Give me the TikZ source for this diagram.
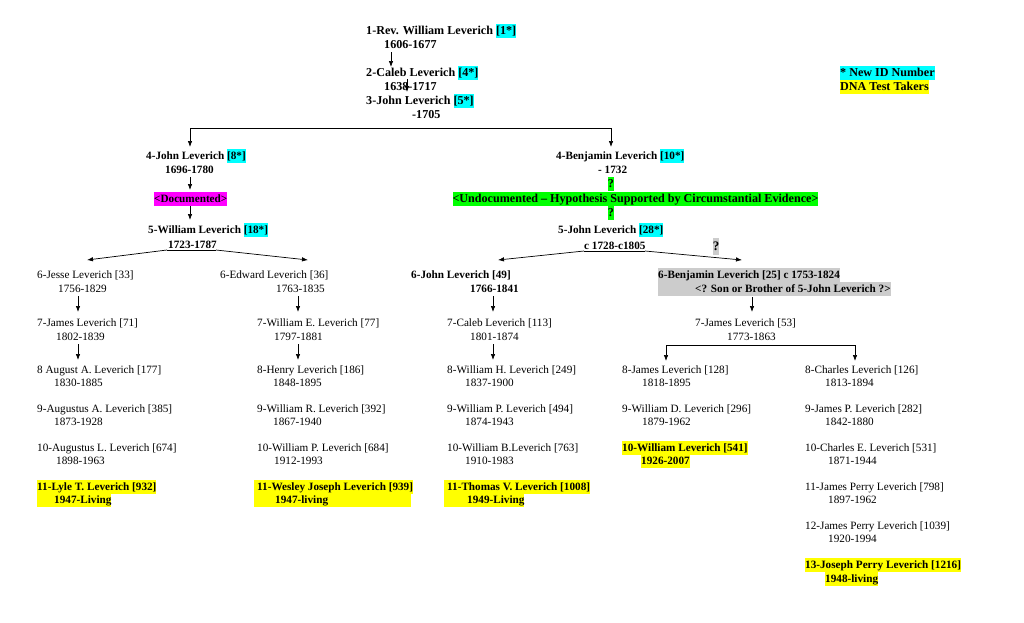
\documentclass[tikz,border=0pt]{standalone}
\usepackage{fontspec}
\setmainfont{Liberation Serif}
\usetikzlibrary{arrows.meta}
\definecolor{cy}{RGB}{0,255,255}
\definecolor{yl}{RGB}{255,255,0}
\definecolor{mg}{RGB}{255,0,255}
\definecolor{gn}{RGB}{0,255,0}
\definecolor{gy}{RGB}{204,204,204}
\newcommand\txtf{\fontsize{11.2}{14}\selectfont}
\newcommand\bigtf{\fontsize{12.1}{14.5}\selectfont}
\newcommand\hlt[2]{{\setlength{\fboxsep}{0pt}\colorbox{#1}{\strut#2}}}
\begin{document}
\begin{tikzpicture}[x=1pt,y=-1pt,
  tx/.style={anchor=base west,inner sep=0pt,font=\txtf},
  bx/.style={anchor=base west,inner sep=0pt,font=\txtf\bfseries},
  tb/.style={anchor=base west,inner sep=0pt,font=\bigtf\bfseries},
  cx/.style={anchor=base,inner sep=0pt,font=\bigtf\bfseries},
  arr/.style={-{Latex[length=6pt,width=4.5pt]},line width=0.7pt},
  ln/.style={line width=0.7pt}]
\useasboundingbox[fill=white] (0,0) rectangle (1024,622);

% ---------- top ----------
\node[tb] (r1)  at (366,34)  {1-Rev. William Leverich \hlt{cy}{[1*]}};
\node[tb] (r1d) at (384,48)  {1606-1677};
\node[tb] (r2)  at (366,76)  {2-Caleb Leverich \hlt{cy}{[4*]}};
\node[tb] (r2d) at (384,90)  {1638-1717};
\node[tb] (r3)  at (366,104) {3-John Leverich \hlt{cy}{[5*]}};
\node[tb] (r3d) at (412,118) {-1705};
\coordinate (a1s) at (391,52); \coordinate (a1e) at (391,67);
\draw[arr] (a1s) -- (a1e);
\coordinate (a2s) at (407,79); \coordinate (a2e) at (407,92);
\draw[arr] (a2s) -- (a2e);

% legend
\node[tb] (lg1) at (840,76) {\hlt{cy}{* New ID Number}};
\node[tb] (lg2) at (840,90) {\hlt{yl}{DNA Test Takers}};

% main split
\coordinate (sp) at (412,128);
\coordinate (spl) at (190,147);
\coordinate (spr) at (611,147);
\draw[arr] (sp) -| (spl);
\draw[arr] (sp) -| (spr);

% ---------- left branch ----------
\node[bx] (j4)  at (146,159) {4-John Leverich \hlt{cy}{[8*]}};
\node[bx] (j4d) at (165,173) {1696-1780};
\coordinate (a3s) at (190,177); \coordinate (a3e) at (190,190);
\draw[arr] (a3s) -- (a3e);
\node[bx] (doc) at (154,202) {\hlt{mg}{<Documented>}};
\coordinate (a4s) at (190,206); \coordinate (a4e) at (190,220);
\draw[arr] (a4s) -- (a4e);
\node[bx] (w5)  at (148,233) {5-William Leverich \hlt{cy}{[18*]}};
\node[bx] (w5d) at (168,248) {1723-1787};
\coordinate (u1l) at (167,250); \coordinate (u1r) at (216,250);
\coordinate (e1l) at (87,260);  \coordinate (e1r) at (308,260);
\draw[ln] (u1l) -- (u1r);
\draw[arr] (u1l) -- (e1l);
\draw[arr] (u1r) -- (e1r);

% ---------- right branch ----------
\node[bx] (b4)  at (556,159) {4-Benjamin Leverich \hlt{cy}{[10*]}};
\node[bx] (b4d) at (598,173) {- 1732};
\node[cx] (q1)  at (611,187) {\hlt{gn}{?}};
\node[cx] (und) at (635.5,202) {\hlt{gn}{<Undocumented – Hypothesis Supported by Circumstantial Evidence>}};
\node[cx] (q2)  at (611,216) {\hlt{gn}{?}};
\node[bx] (j5)  at (558,233) {5-John Leverich \hlt{cy}{[28*]}};
\node[bx] (j5d) at (584,249) {c 1728-c1805};
\node[anchor=base,inner sep=0pt,font=\fontsize{13}{17}\selectfont\bfseries] (q3) at (716,250) {\hlt{gy}{?}};
\coordinate (u2l) at (584,251); \coordinate (u2r) at (645,251);
\coordinate (e2l) at (498,260);  \coordinate (e2r) at (742,260);
\draw[ln] (u2l) -- (u2r);
\draw[arr] (u2l) -- (e2l);
\draw[arr] (u2r) -- (e2r);

% ---------- column 1 ----------
\node[tx] (c1a) at (37,278) {6-Jesse Leverich [33]};
\node[tx] (c1b) at (58,292) {1756-1829};
\coordinate (a5s) at (78,296); \coordinate (a5e) at (78,312);
\draw[arr] (a5s) -- (a5e);
\node[tx] (c1c) at (37,326) {7-James Leverich [71]};
\node[tx] (c1d) at (56,340) {1802-1839};
\coordinate (a6s) at (78,344); \coordinate (a6e) at (78,360);
\draw[arr] (a6s) -- (a6e);
\node[tx] (c1e) at (37,373) {8 August A. Leverich [177]};
\node[tx] (c1f) at (54,386) {1830-1885};
\node[tx] (c1g) at (37,412) {9-Augustus A. Leverich [385]};
\node[tx] (c1h) at (54,425) {1873-1928};
\node[tx] (c1i) at (37,451) {10-Augustus L. Leverich [674]};
\node[tx] (c1j) at (56,464) {1898-1963};
\node[bx] (c1k) at (37,490) {\hlt{yl}{11-Lyle T. Leverich [932]}};
\node[bx] (c1l) at (37,503) {\hlt{yl}{\hspace*{17pt}1947-Living}};

% ---------- column 2 ----------
\node[tx] (c2a) at (220,278) {6-Edward Leverich [36]};
\node[tx] (c2b) at (276,292) {1763-1835};
\coordinate (a7s) at (298,296); \coordinate (a7e) at (298,312);
\draw[arr] (a7s) -- (a7e);
\node[tx] (c2c) at (257,326) {7-William E. Leverich [77]};
\node[tx] (c2d) at (274,340) {1797-1881};
\coordinate (a8s) at (298,344); \coordinate (a8e) at (298,360);
\draw[arr] (a8s) -- (a8e);
\node[tx] (c2e) at (257,373) {8-Henry Leverich [186]};
\node[tx] (c2f) at (273,386) {1848-1895};
\node[tx] (c2g) at (257,412) {9-William R. Leverich [392]};
\node[tx] (c2h) at (273,425) {1867-1940};
\node[tx] (c2i) at (257,451) {10-William P. Leverich [684]};
\node[tx] (c2j) at (274,464) {1912-1993};
\node[bx] (c2k) at (254,490) {\hlt{yl}{\hspace*{3pt}11-Wesley Joseph Leverich [939]}};
\node[bx] (c2l) at (254,503) {\hlt{yl}{\hspace*{21pt}1947-living\hspace*{83pt}}};

% ---------- column 3 ----------
\node[bx] (c3a) at (411,278) {6-John Leverich [49]};
\node[bx] (c3b) at (470,292) {1766-1841};
\coordinate (a9s) at (493,296); \coordinate (a9e) at (493,312);
\draw[arr] (a9s) -- (a9e);
\node[tx] (c3c) at (447,326) {7-Caleb Leverich [113]};
\node[tx] (c3d) at (470,340) {1801-1874};
\coordinate (a10s) at (493,344); \coordinate (a10e) at (493,360);
\draw[arr] (a10s) -- (a10e);
\node[tx] (c3e) at (447,373) {8-William H. Leverich [249]};
\node[tx] (c3f) at (465,386) {1837-1900};
\node[tx] (c3g) at (447,412) {9-William P. Leverich [494]};
\node[tx] (c3h) at (465,425) {1874-1943};
\node[tx] (c3i) at (447,451) {10-William B.Leverich [763]};
\node[tx] (c3j) at (465,464) {1910-1983};
\node[bx] (c3k) at (444,490) {\hlt{yl}{\hspace*{3pt}11-Thomas V. Leverich [1008]}};
\node[bx] (c3l) at (444,503) {\hlt{yl}{\hspace*{23pt}1949-Living}};

% ---------- column 4 ----------
\node[bx] (c4a) at (658,278) {\hlt{gy}{6-Benjamin Leverich [25] c 1753-1824}};
\node[bx] (c4b) at (658,292) {\hlt{gy}{\hspace*{37pt}<? Son or Brother of 5-John Leverich ?>}};
\coordinate (a11s) at (752,297); \coordinate (a11e) at (752,312);
\draw[arr] (a11s) -- (a11e);
\node[tx] (c4c) at (695,326) {7-James Leverich [53]};
\node[tx] (c4d) at (727,340) {1773-1863};
\coordinate (sp2) at (760,345);
\coordinate (sp2l) at (666,361);
\coordinate (sp2r) at (855,361);
\draw[arr] (sp2) -| (sp2l);
\draw[arr] (sp2) -| (sp2r);
\node[tx] (c4e) at (622,373) {8-James Leverich [128]};
\node[tx] (c4f) at (642,386) {1818-1895};
\node[tx] (c4g) at (622,412) {9-William D. Leverich [296]};
\node[tx] (c4h) at (642,425) {1879-1962};
\node[bx] (c4i) at (622,451) {\hlt{yl}{10-William Leverich [541]}};
\node[bx] (c4j) at (641,464) {\hlt{yl}{1926-2007}};

% ---------- column 5 ----------
\node[tx] (c5a) at (805,373) {8-Charles Leverich [126]};
\node[tx] (c5b) at (825,386) {1813-1894};
\node[tx] (c5c) at (805,412) {9-James P. Leverich [282]};
\node[tx] (c5d) at (825,425) {1842-1880};
\node[tx] (c5e) at (805,451) {10-Charles E. Leverich [531]};
\node[tx] (c5f) at (828,464) {1871-1944};
\node[tx] (c5g) at (805,490) {11-James Perry Leverich [798]};
\node[tx] (c5h) at (828,503) {1897-1962};
\node[tx] (c5i) at (805,529) {12-James Perry Leverich [1039]};
\node[tx] (c5j) at (828,542) {1920-1994};
\node[bx] (c5k) at (805,568) {\hlt{yl}{13-Joseph Perry Leverich [1216]}};
\node[bx] (c5l) at (825,582) {\hlt{yl}{1948-living}};
\end{tikzpicture}
\end{document}
